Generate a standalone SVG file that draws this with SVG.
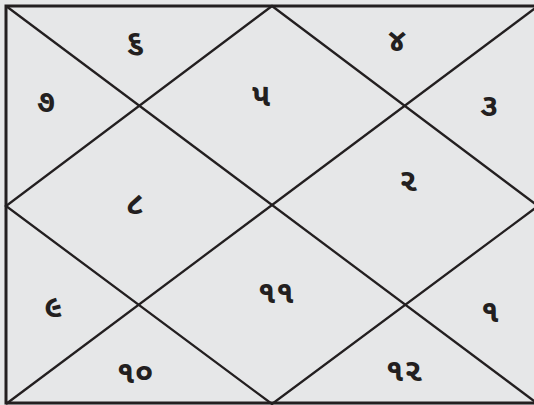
<svg xmlns="http://www.w3.org/2000/svg" width="534" height="405" viewBox="0 0 534 405">
<style>
.ln{stroke:#231f20;stroke-width:2.3;fill:none}
.bd{stroke:#231f20;stroke-width:3;fill:none}
.t{font-family:"Noto Sans Gujarati","Noto Sans","DejaVu Sans",sans-serif;font-size:32px;font-weight:bold;fill:#231f20;text-anchor:middle}
</style>
<rect x="0" y="0" width="534" height="405" fill="#e6e7e8"/>
<g id="connectors">
<line class="ln" x1="6" y1="6" x2="538" y2="404"/>
<line class="ln" x1="6" y1="404" x2="538" y2="6"/>
<polygon class="ln" points="272,6 538,206 272,404 6,206"/>
<rect class="bd" x="6" y="6" width="532" height="397"/>
</g>
<g id="h6"><text class="t" x="135" y="52">૬</text></g>
<g id="h4"><text class="t" x="397" y="51">૪</text></g>
<g id="h7"><text class="t" x="46" y="112">૭</text></g>
<g id="h5"><text class="t" x="261" y="106">૫</text></g>
<g id="h3"><text class="t" x="489" y="116">૩</text></g>
<g id="h8"><text class="t" x="135" y="214">૮</text></g>
<g id="h2"><text class="t" x="408" y="191">૨</text></g>
<g id="h9"><text class="t" x="53" y="317">૯</text></g>
<g id="h11"><text class="t" x="276" y="303">૧૧</text></g>
<g id="h1"><text class="t" x="490" y="322">૧</text></g>
<g id="h10"><text class="t" x="135" y="383">૧૦</text></g>
<g id="h12"><text class="t" x="404" y="381">૧૨</text></g>
</svg>
